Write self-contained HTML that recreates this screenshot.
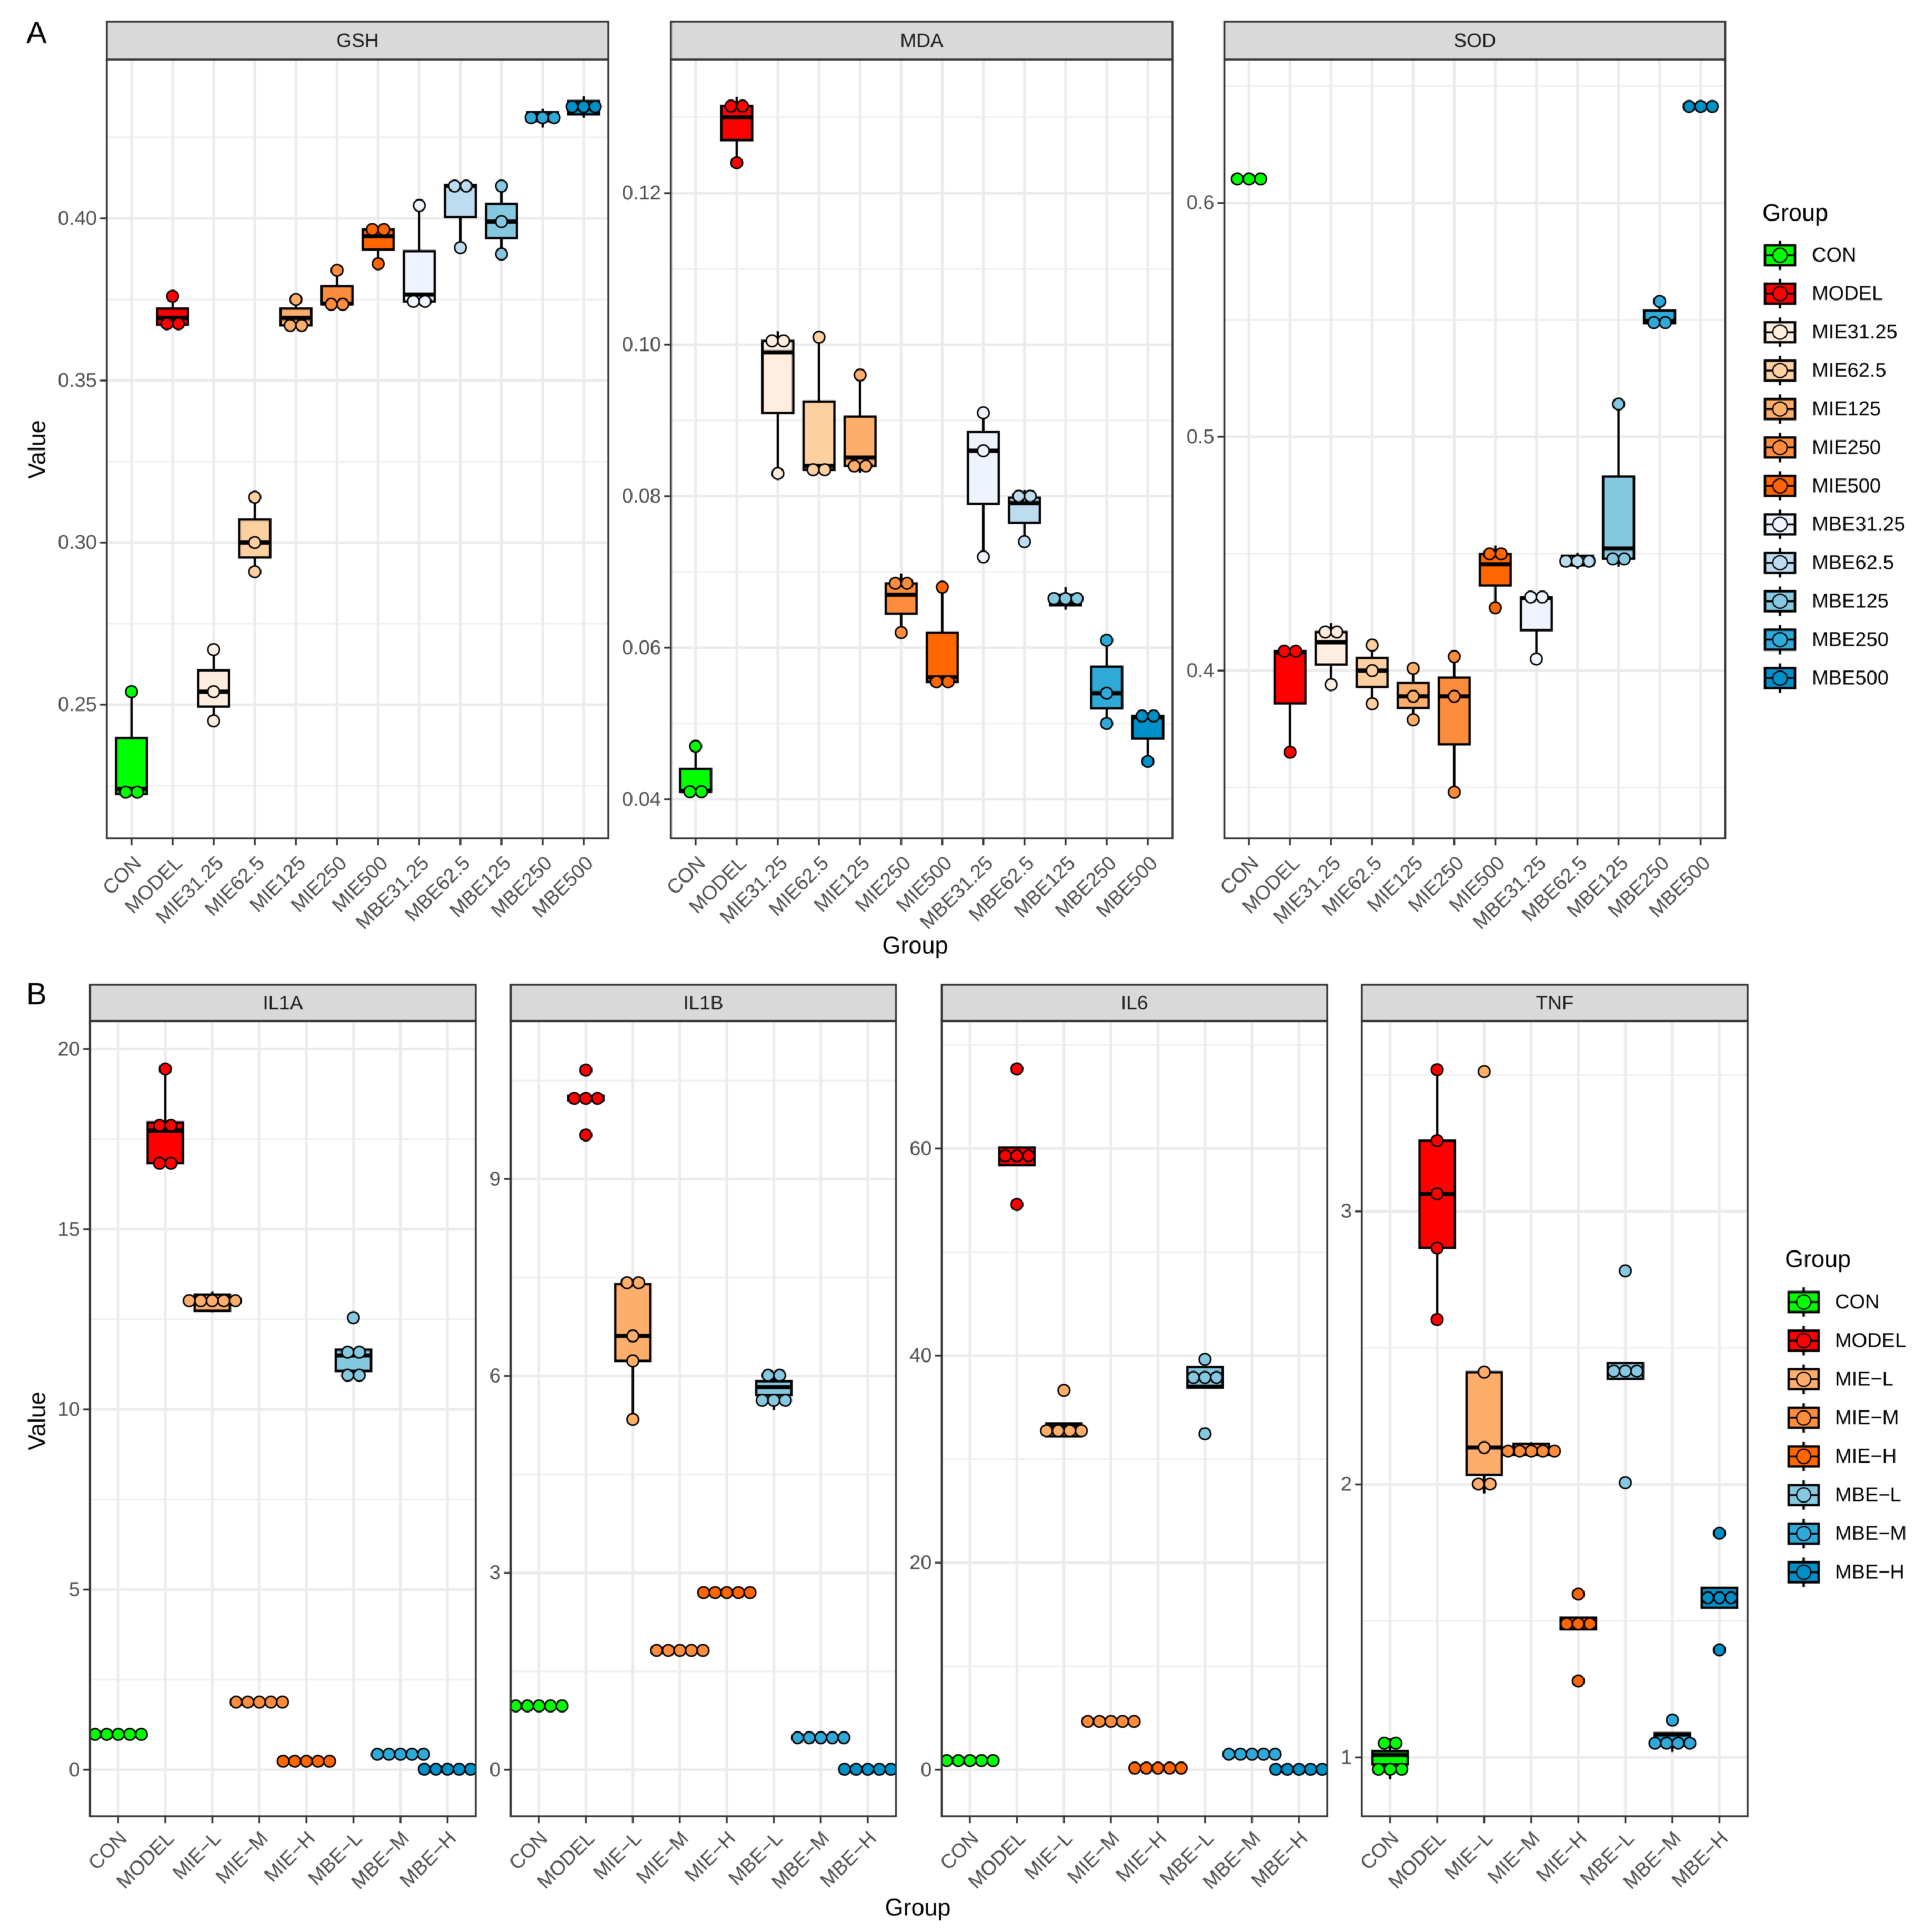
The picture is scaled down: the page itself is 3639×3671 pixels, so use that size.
<!DOCTYPE html>
<html lang="en">
<head>
<meta charset="utf-8">
<title>Boxplots of oxidative stress and cytokine markers by group</title>
<style>
html,body{margin:0;padding:0;background:#fff;}
#figure{display:block;width:3639px;height:3671px;font-family:"Liberation Sans",Arial,sans-serif;filter:blur(0.9px);}
</style>
</head>
<body>
<svg id="figure" xmlns="http://www.w3.org/2000/svg" width="3639" height="3671" viewBox="0 0 3639 3671">
<rect x="0" y="0" width="3639" height="3671" fill="#ffffff"/>
<text x="50" y="82" font-size="58" fill="#000">A</text>
<text x="50" y="1908" font-size="58" fill="#000">B</text>
<text transform="translate(70,854) rotate(-90)" text-anchor="middle" dominant-baseline="central" font-size="45" fill="#000">Value</text>
<text transform="translate(70,2700) rotate(-90)" text-anchor="middle" dominant-baseline="central" font-size="45" fill="#000">Value</text>
<text x="1739" y="1796" text-anchor="middle" dominant-baseline="central" font-size="45" fill="#000">Group</text>
<text x="1744" y="3624" text-anchor="middle" dominant-baseline="central" font-size="45" fill="#000">Group</text>
<text x="3349" y="404" dominant-baseline="central" font-size="45" fill="#000">Group</text>
<text x="3392" y="2392" dominant-baseline="central" font-size="45" fill="#000">Group</text>
<g id="chart-root"></g>
</svg>
<script>
const groupsA = ["CON","MODEL","MIE31.25","MIE62.5","MIE125","MIE250","MIE500","MBE31.25","MBE62.5","MBE125","MBE250","MBE500"];
const groupsB = ["CON","MODEL","MIE\u2212L","MIE\u2212M","MIE\u2212H","MBE\u2212L","MBE\u2212M","MBE\u2212H"];
const colorsA = ["#00ff00","#ff0000","#ffeee0","#fdd0a2","#fdae6b","#fd8d3c","#ff6600","#eff3ff","#bedcf0","#85c8e0","#2fa9d8","#0090c8"];
const colorsB = ["#00ff00","#ff0000","#fdae6b","#fd8d3c","#ff6600","#85c8e0","#2fa9d8","#0090c8"];

const gshTicks = [0.25,0.30,0.35,0.40];
const gshTickLabels = ["0.25","0.30","0.35","0.40"];
const gshQ1 = [.2225,.3672,.2494,.2954,.367,.3735,.3904,.3744,.4004,.3939,.4300,.4321];
const gshMedian = [.2240,.3693,.254,.30,.3693,.3737,.3945,.3765,.41,.399,.4325,.4345];
const gshQ3 = [.2397,.3722,.2606,.3071,.3722,.3791,.3966,.3899,.4103,.4045,.4328,.4362];
const gshLow = [.2225,.3672,.245,.291,.367,.3735,.386,.3744,.391,.389,.428,.431];
const gshHigh = [.254,.376,.267,.314,.375,.384,.3966,.404,.4103,.41,.4338,.4377];
const gshDots = [[.223,.223,.254],[.3675,.3675,.376],[.245,.254,.267],[.291,.30,.314],[.367,.367,.375],[.3735,.3735,.384],[.386,.3966,.3966],[.3744,.3744,.404],[.391,.41,.41],[.389,.399,.41],[.4311,.4311,.4311],[.4345,.4345,.4345]];

const mdaTicks = [0.04,0.06,0.08,0.10,0.12];
const mdaTickLabels = ["0.04","0.06","0.08","0.10","0.12"];
const mdaQ1 = [.041,.127,.091,.0835,.084,.0645,.0555,.079,.0765,.0656,.052,.048];
const mdaMedian = [.0411,.13,.099,.084,.0851,.067,.0561,.086,.0791,.0658,.054,.0508];
const mdaQ3 = [.044,.1315,.1005,.0925,.0905,.0685,.062,.0885,.0798,.067,.0575,.051];
const mdaLow = [.041,.124,.083,.0835,.0831,.062,.0555,.072,.074,.065,.05,.045];
const mdaHigh = [.047,.1327,.1018,.101,.096,.0698,.068,.091,.0808,.068,.061,.051];
const mdaDots = [[.041,.041,.047],[.124,.1315,.1315],[.083,.1005,.1005],[.0835,.0835,.101],[.084,.084,.096],[.062,.0685,.0685],[.0555,.0555,.068],[.072,.086,.091],[.074,.08,.08],[.0665,.0665,.0665],[.05,.054,.061],[.045,.051,.051]];

const sodTicks = [0.4,0.5,0.6];
const sodTickLabels = ["0.4","0.5","0.6"];
const sodQ1 = [.6103,.386,.4026,.393,.384,.3685,.4364,.4173,.445,.4478,.5486,.6413];
const sodMedian = [.6103,.4078,.4121,.40,.389,.389,.4455,.431,.4468,.4522,.5495,.6413];
const sodQ3 = [.6103,.4083,.4165,.4054,.3948,.397,.4499,.4313,.4491,.483,.554,.6413];
const sodLow = [.6103,.3651,.394,.3858,.379,.348,.4269,.405,.4434,.4444,.5486,.6413];
const sodHigh = [.6103,.4083,.4204,.4109,.401,.406,.4535,.4315,.4504,.514,.5579,.6413];
const sodDots = [[.6103,.6103,.6103],[.3651,.4083,.4083],[.394,.4165,.4165],[.3858,.40,.4109],[.379,.389,.401],[.348,.389,.406],[.4269,.4499,.4499],[.405,.4315,.4315],[.4468,.4468,.4468],[.4478,.4478,.514],[.5488,.5488,.5579],[.6413,.6413,.6413]];

const il1aTicks = [0,5,10,15,20];
const il1aTickLabels = ["0","5","10","15","20"];
const il1aQ1 = [.983,16.84,12.74,1.88,.24,11.07,.43,.02];
const il1aMedian = [.983,17.74,13.05,1.88,.24,11.5,.43,.02];
const il1aQ3 = [.983,17.97,13.19,1.88,.24,11.66,.43,.02];
const il1aLow = [.983,16.84,12.7,1.88,.24,10.95,.43,.02];
const il1aHigh = [.983,19.45,13.28,1.88,.24,11.66,.43,.02];
const il1aDots = [[.983,.983,.983,.983,.983],[16.83,16.83,17.88,17.88,19.45],[13.02,13.02,13.02,13.02,13.02],[1.88,1.88,1.88,1.88,1.88],[.24,.24,.24,.24,.24],[10.95,10.95,11.59,11.59,12.55],[.43,.43,.43,.43,.43],[.02,.02,.02,.02,.02]];

const il1bTicks = [0,3,6,9];
const il1bTickLabels = ["0","3","6","9"];
const il1bQ1 = [.973,10.2,6.23,1.82,2.70,5.71,.49,.01];
const il1bMedian = [.973,10.23,6.61,1.82,2.70,5.83,.49,.01];
const il1bQ3 = [.973,10.27,7.4,1.82,2.70,5.92,.49,.01];
const il1bLow = [.973,10.2,5.34,1.82,2.70,5.48,.49,.01];
const il1bHigh = [.973,10.27,7.42,1.82,2.70,6.07,.49,.01];
const il1bDots = [[.973,.973,.973,.973,.973],[9.67,10.23,10.23,10.23,10.66],[5.34,6.23,6.61,7.42,7.42],[1.82,1.82,1.82,1.82,1.82],[2.70,2.70,2.70,2.70,2.70],[5.63,5.63,5.63,6.01,6.01],[.49,.49,.49,.49,.49],[.01,.01,.01,.01,.01]];

const il6Ticks = [0,20,40,60];
const il6TickLabels = ["0","20","40","60"];
const il6Q1 = [.9,58.4,32.2,4.68,.18,36.9,1.5,.06];
const il6Median = [.9,59.3,33.2,4.68,.18,37.0,1.5,.06];
const il6Q3 = [.9,60.1,33.47,4.68,.18,38.9,1.5,.06];
const il6Low = [.9,58.4,32.2,4.5,.18,36.9,1.5,.06];
const il6High = [.9,60.1,33.47,4.9,.18,38.9,1.5,.06];
const il6Dots = [[.9,.9,.9,.9,.9],[54.6,59.3,59.3,59.3,67.7],[32.75,32.75,32.75,32.75,36.65],[4.68,4.68,4.68,4.68,4.68],[.18,.18,.18,.18,.18],[32.45,37.9,37.9,37.9,39.65],[1.5,1.5,1.5,1.5,1.5],[.06,.06,.06,.06,.06]];

const tnfTicks = [1,2,3];
const tnfTickLabels = ["1","2","3"];
const tnfQ1 = [.975,2.866,2.035,2.108,1.469,2.386,1.043,1.548];
const tnfMedian = [1.009,3.064,2.135,2.122,1.489,2.415,1.084,1.585];
const tnfQ3 = [1.023,3.259,2.411,2.149,1.512,2.445,1.089,1.621];
const tnfLow = [.92,2.604,1.967,2.108,1.469,2.386,1.02,1.548];
const tnfHigh = [1.07,3.519,2.411,2.155,1.512,2.445,1.089,1.621];
const tnfDots = [[.957,.957,.957,1.052,1.052],[2.604,2.866,3.064,3.259,3.519],[2.001,2.001,2.135,2.411,3.512],[2.122,2.122,2.122,2.122,2.122],[1.28,1.489,1.489,1.489,1.598],[2.006,2.415,2.415,2.415,2.782],[1.052,1.052,1.052,1.052,1.137],[1.394,1.585,1.585,1.585,1.821]];

const SVGNS = "http://www.w3.org/2000/svg";
const root = document.getElementById("chart-root");

function mk(tag, attrs, parent) {
  const el = document.createElementNS(SVGNS, tag);
  for (const k in attrs) el.setAttribute(k, attrs[k]);
  parent.appendChild(el);
  return el;
}

const panelLayouts = [
  {name:"GSH", groups:groupsA, colors:colorsA, q1:gshQ1, med:gshMedian, q3:gshQ3, low:gshLow, high:gshHigh, dots:gshDots, ticks:gshTicks, tickLabels:gshTickLabels, left:203, right:1156, top:41, strip:113, bottom:1593, pxA:1339, pxB:415, lx:12, ly:41},
  {name:"MDA", groups:groupsA, colors:colorsA, q1:mdaQ1, med:mdaMedian, q3:mdaQ3, low:mdaLow, high:mdaHigh, dots:mdaDots, ticks:mdaTicks, tickLabels:mdaTickLabels, left:1275, right:2228, top:41, strip:113, bottom:1593, pxA:1518.8, pxB:367, lx:12, ly:41},
  {name:"SOD", groups:groupsA, colors:colorsA, q1:sodQ1, med:sodMedian, q3:sodQ3, low:sodLow, high:sodHigh, dots:sodDots, ticks:sodTicks, tickLabels:sodTickLabels, left:2326.5, right:3278.5, top:41, strip:113, bottom:1593, pxA:1274.3, pxB:385.7, lx:12, ly:41},
  {name:"IL1A", groups:groupsB, colors:colorsB, q1:il1aQ1, med:il1aMedian, q3:il1aQ3, low:il1aLow, high:il1aHigh, dots:il1aDots, ticks:il1aTicks, tickLabels:il1aTickLabels, left:171, right:904, top:1871, strip:1940, bottom:3451, pxA:3362.9, pxB:1993.5, lx:10, ly:36},
  {name:"IL1B", groups:groupsB, colors:colorsB, q1:il1bQ1, med:il1bMedian, q3:il1bQ3, low:il1bLow, high:il1bHigh, dots:il1bDots, ticks:il1bTicks, tickLabels:il1bTickLabels, left:970.5, right:1702.5, top:1871, strip:1940, bottom:3451, pxA:3362.9, pxB:2240.3, lx:10, ly:36},
  {name:"IL6", groups:groupsB, colors:colorsB, q1:il6Q1, med:il6Median, q3:il6Q3, low:il6Low, high:il6High, dots:il6Dots, ticks:il6Ticks, tickLabels:il6TickLabels, left:1789.5, right:2522, top:1871, strip:1940, bottom:3451, pxA:3362.9, pxB:2182.4, lx:10, ly:36},
  {name:"TNF", groups:groupsB, colors:colorsB, q1:tnfQ1, med:tnfMedian, q3:tnfQ3, low:tnfLow, high:tnfHigh, dots:tnfDots, ticks:tnfTicks, tickLabels:tnfTickLabels, left:2588, right:3321, top:1871, strip:1940, bottom:3451, pxA:3339.3, pxB:2301.7, lx:10, ly:36}
];

function yScale(p) {
  const v0 = p.ticks[0], v1 = p.ticks[p.ticks.length - 1];
  return v => p.pxA + (v - v0) * (p.pxB - p.pxA) / (v1 - v0);
}
function xScale(p) {
  const step = (p.right - p.left) / (p.groups.length - 1 + 1.2);
  return { step: step, at: i => p.left + (0.6 + i) * step };
}

function drawPanel(p, pi) {
  const y = yScale(p), xs = xScale(p), x = xs.at, step = xs.step;
  const slug = p.name.toLowerCase();
  const g = mk("g", {}, root);
  
  

  const defs = mk("clipPath", {id: "clip" + pi}, g);
  mk("rect", {x: p.left, y: p.strip, width: p.right - p.left, height: p.bottom - p.strip}, defs);

  const tickStep = p.ticks[1] - p.ticks[0];
  for (let v = p.ticks[0] - tickStep / 2; y(v) > p.strip; v += tickStep) {
    if (y(v) >= p.bottom) continue;
    const el = mk("line", {x1: p.left, x2: p.right, y1: y(v), y2: y(v), stroke: "#eeeeee", "stroke-width": 3}, g);
    
    
  }
  p.ticks.forEach(t => {
    const el = mk("line", {x1: p.left, x2: p.right, y1: y(t), y2: y(t), stroke: "#ebebeb", "stroke-width": 5}, g);
    
    
  });
  p.groups.forEach((_, i) => {
    const el = mk("line", {x1: x(i), x2: x(i), y1: p.strip, y2: p.bottom, stroke: "#ebebeb", "stroke-width": 5}, g);
    
    
  });

  const marks = mk("g", {"clip-path": "url(#clip" + pi + ")"}, g);
  
  

  const boxW = step * 0.75;
  p.groups.forEach((name, i) => {
    const cx = x(i), col = p.colors[i];
    const whiskerHi = mk("line", {x1: cx, x2: cx, y1: y(p.q3[i]), y2: y(p.high[i]), stroke: "#000", "stroke-width": 4.5}, marks);
    
    
    const whiskerLo = mk("line", {x1: cx, x2: cx, y1: y(p.q1[i]), y2: y(p.low[i]), stroke: "#000", "stroke-width": 4.5}, marks);
    
    
    const box = mk("rect", {x: cx - boxW / 2, y: y(p.q3[i]), width: boxW, height: Math.max(0, y(p.q1[i]) - y(p.q3[i])), fill: col, stroke: "#000", "stroke-width": 4.5}, marks);
    
    
    const median = mk("line", {x1: cx - boxW / 2, x2: cx + boxW / 2, y1: y(p.med[i]), y2: y(p.med[i]), stroke: "#000", "stroke-width": 8}, marks);
    
    

    const rows = new Map();
    p.dots[i].forEach(v => rows.set(v, (rows.get(v) || 0) + 1));
    rows.forEach((count, v) => {
      for (let k = 0; k < count; k++) {
        const dot = mk("circle", {cx: cx + (k - (count - 1) / 2) * 22, cy: y(v), r: 11, fill: col, stroke: "#000", "stroke-width": 3}, marks);
        
        
      }
    });
  });

  const border = mk("rect", {x: p.left, y: p.strip, width: p.right - p.left, height: p.bottom - p.strip, fill: "none", stroke: "#333333", "stroke-width": 3.5}, g);
  
  
  const strip = mk("rect", {x: p.left, y: p.top, width: p.right - p.left, height: p.strip - p.top, fill: "#d9d9d9", stroke: "#333333", "stroke-width": 3.5}, g);
  
  
  const stripText = mk("text", {x: (p.left + p.right) / 2, y: (p.top + p.strip) / 2, "text-anchor": "middle", "dominant-baseline": "central", "font-size": 37, fill: "#1a1a1a"}, g);
  stripText.textContent = p.name;
  
  

  p.ticks.forEach((t, k) => {
    const mark = mk("line", {x1: p.left - 13, x2: p.left, y1: y(t), y2: y(t), stroke: "#333333", "stroke-width": 3.5}, g);
    
    
    const lab = mk("text", {x: p.left - 19, y: y(t), "text-anchor": "end", "dominant-baseline": "central", "font-size": 38, fill: "#4d4d4d"}, g);
    lab.textContent = p.tickLabels[k];
    
    
  });
  p.groups.forEach((name, i) => {
    const mark = mk("line", {x1: x(i), x2: x(i), y1: p.bottom, y2: p.bottom + 13, stroke: "#333333", "stroke-width": 3.5}, g);
    
    
    const lab = mk("text", {transform: "translate(" + (x(i) + p.lx) + "," + (p.bottom + p.ly) + ") rotate(-45)", "text-anchor": "end", "dominant-baseline": "central", "font-size": 38, fill: "#4d4d4d"}, g);
    lab.textContent = name;
    
    
  });
}

panelLayouts.forEach(drawPanel);

function drawLegend(names, colors, keyX, firstY, gapY, labelX, slug) {
  const g = mk("g", {}, root);
  
  
  names.forEach((name, i) => {
    const cy = firstY + i * gapY, cx = keyX + 28.5;
    const whisker = mk("line", {x1: cx, x2: cx, y1: cy - 28, y2: cy + 28, stroke: "#000", "stroke-width": 4.5}, g);
    
    
    const box = mk("rect", {x: keyX, y: cy - 19, width: 57, height: 38, fill: colors[i], stroke: "#000", "stroke-width": 4.5}, g);
    
    
    const med = mk("line", {x1: keyX, x2: keyX + 57, y1: cy, y2: cy, stroke: "#000", "stroke-width": 3.5}, g);
    
    
    const dot = mk("circle", {cx: cx, cy: cy, r: 13.5, fill: colors[i], stroke: "#000", "stroke-width": 2.5}, g);
    
    
    const lab = mk("text", {x: labelX, y: cy, "dominant-baseline": "central", "font-size": 38, fill: "#000"}, g);
    lab.textContent = name;
    
    
  });
}
drawLegend(groupsA, colorsA, 3354, 485, 73.05, 3443, 'a');
drawLegend(groupsB, colorsB, 3399, 2474, 73.35, 3487, 'b');
</script>
</body>
</html>
